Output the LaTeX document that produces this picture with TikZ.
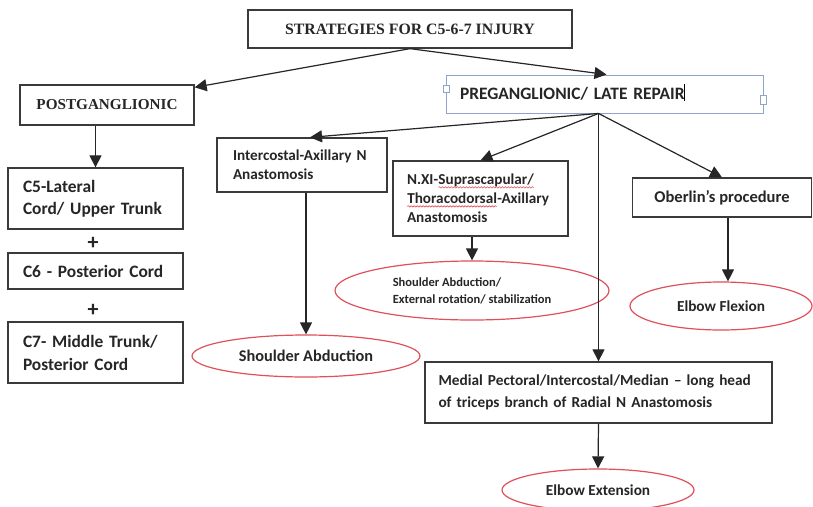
\documentclass[tikz,border=0pt]{standalone}
\usepackage{fontspec}
\setmainfont{Carlito}
\newfontfamily\serifb{Liberation Serif}
\usetikzlibrary{shapes.geometric,arrows.meta,calc,decorations.pathmorphing}
\definecolor{boxc}{HTML}{3A3A3A}
\definecolor{ovalc}{HTML}{E0505A}
\definecolor{selc}{HTML}{8EA4C8}
\definecolor{txtc}{HTML}{262626}
\newcommand\fsz[2]{\fontsize{#1pt}{#2pt}\selectfont}
\newcommand\wavy[1]{\tikz[baseline=(w.base)]{\node[shape=rectangle,inner sep=0pt,outer sep=0pt,anchor=base,minimum width=0pt,minimum height=0pt,text width={},align=none,draw=none,fill=none] (w) {#1};\draw[draw=ovalc,line width=0.6pt,decorate,decoration={snake,amplitude=0.7pt,segment length=3pt}] ([yshift=-2.6pt]w.base west) -- ([yshift=-2.6pt]w.base east);}}
\begin{document}
\begin{tikzpicture}[x=1pt,y=-1pt,
  box/.style={draw=boxc, line width=1.3pt, fill=white, inner ysep=0pt, text=txtc},
  lbox/.style={box, align=left},
  oval/.style={ellipse, draw=ovalc, line width=1.2pt, inner sep=0pt, text=txtc, font=\bfseries\fsz{15.3}{18}},
  arr/.style={draw=black!85, line width=1.2pt, -{Triangle[length=12pt,width=12pt]}},
  handle/.style={draw=selc, fill=white, line width=0.7pt, minimum width=6pt, minimum height=7pt, inner sep=0pt},
  plus/.style={font=\bfseries\fsz{22}{22}, text=txtc, inner sep=0pt}]
\useasboundingbox (0,0) rectangle (813,506);
\clip (0,0) rectangle (813,506);
\fill[white] (0,0) rectangle (813,506);

% boxes
\node[box, minimum width=324pt, minimum height=38pt, font=\serifb\bfseries\fsz{15.8}{18}] (title) at (410,29) {STRATEGIES FOR C5-6-7 INJURY};
\node[box, minimum width=174pt, minimum height=40pt, font=\serifb\bfseries\fsz{15.2}{18}] (post) at (107,105) {POSTGANGLIONIC};
\node[lbox, draw=selc, line width=0.9pt, text width=289pt, inner xsep=14pt, minimum height=38pt, font=\bfseries\fsz{17.4}{20}] (pre) at (604.5,94) {PREGANGLIONIC/ LATE REPAIR};

\node[lbox, text width=145pt, inner xsep=15pt, minimum height=61pt, font=\bfseries\fsz{17.4}{22}] (c5) at (95.5,198.5) {C5-Lateral\\Cord/ Upper Trunk};
\node[lbox, text width=145pt, inner xsep=15pt, minimum height=36pt, font=\bfseries\fsz{17.4}{22}] (c6) at (95.5,271) {C6 - Posterior Cord};
\node[lbox, text width=145pt, inner xsep=15pt, minimum height=61pt, font=\bfseries\fsz{17.4}{23}] (c7) at (95.5,352.5) {C7- Middle Trunk/\\Posterior Cord};
\node[plus] (p1) at (93,243) {+};
\node[plus] (p2) at (93,310) {+};

\node[lbox, text width=138pt, inner xsep=16pt, minimum height=54pt, font=\bfseries\fsz{15.2}{19}] (ica) at (302,165) {Intercostal-Axillary N\\Anastomosis};
\node[lbox, text width=147pt, inner xsep=14pt, minimum height=75pt, font=\bfseries\fsz{15.2}{19}] (nxi) at (480.5,198.5) {N.XI-\wavy{Suprascapular/}\\\wavy{Thoracodorsal}-Axillary\\Anastomosis};
\node[box, minimum width=179pt, minimum height=39pt, font=\bfseries\fsz{16.5}{19}] (ober) at (722,197.5) {Oberlin’s procedure};
\node[lbox, text width=320pt, inner xsep=13.5pt, minimum height=61pt, font=\bfseries\fsz{15.3}{22}] (med) at (598.5,392.5) {Medial Pectoral/Intercostal/Median – long head\\of triceps branch of Radial N Anastomosis};

% outcome ovals
\node[oval, minimum width=274pt, minimum height=59pt, align=left, font=\bfseries\fsz{12.5}{17}] (e1) at (472,290.5) {Shoulder Abduction/\\External rotation/ stabilization};
\node[oval, minimum width=182pt, minimum height=48pt] (e2) at (721,306) {Elbow Flexion};
\node[oval, minimum width=228pt, minimum height=42pt, font=\bfseries\fsz{16.3}{18}] (e3) at (306,356) {Shoulder Abduction};
\node[oval, minimum width=192pt, minimum height=42pt] (e4) at (598,490) {Elbow Extension};

% selection handles and cursor of the editing box
\node[handle] (hl) at (446,89) {};
\node[handle, minimum height=9pt] (hr) at (763,100) {};
\draw[line width=1pt] (684,84) -- (684,101);

% connectors
\draw[arr] (title.south) -- ($(post.north east)+(0,3)$);
\draw[arr] (title.south) -- ($(pre.north)+(2,0)$);
\draw[arr] (c5.north |- post.south) -- (c5.north);
\coordinate (pb) at (pre.south -| med.north);
\draw[arr] (pb) -- ($(ica.north)+(8,0)$);
\draw[arr] (pb) -- (nxi.north);
\draw[arr] (pb) -- (med.north);
\draw[arr] (pb) -- (ober.north);
\draw[arr] (e3.north |- ica.south) -- (e3.north);
\draw[arr] (e1.north |- nxi.south) -- (e1.north);
\coordinate (ob) at ($(ober.south)+(6,0)$);
\draw[arr] (ob) -- (ob |- e2.north);
\draw[arr] (med.south) -- (e4.north);
\end{tikzpicture}
\end{document}
